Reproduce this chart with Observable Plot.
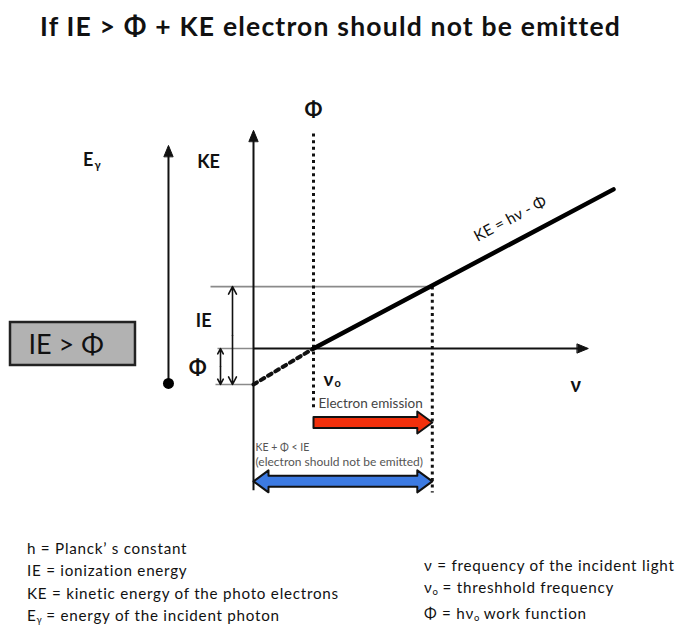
<!DOCTYPE html>
<html><head><meta charset="utf-8">
<script src="https://cdn.jsdelivr.net/npm/d3@7"></script>
<script src="https://cdn.jsdelivr.net/npm/@observablehq/plot@0.6"></script>
<style>
body{margin:0;background:#fff;font-family:Lato,"Open Sans",sans-serif;color:#111}
#wrap{position:relative;width:680px;height:626px;overflow:hidden}
#title{position:absolute;left:40px;top:6px;font-size:26.5px;letter-spacing:1.2px;font-weight:bold;white-space:nowrap;line-height:40px}
#chart{position:absolute;left:0;top:56px}
.leg{position:absolute;font-size:15.2px;letter-spacing:0.75px;line-height:22.3px;white-space:nowrap}
.leg sub{font-size:9.5px;vertical-align:baseline;position:relative;top:2px;letter-spacing:0}
</style></head>
<body><div id="wrap">
<div id="title">If IE &gt; Φ + KE electron should not be emitted</div>
<div id="chart"></div>
<div class="leg" id="legL" style="left:27px;top:537px"></div>
<div class="leg" id="legR" style="left:424px;top:554px"></div>
</div>
<script>
// ---- data (frequency ν in units of ν0, energy in units of Φ) ----
const nu0 = 1;            // threshold frequency
const phi = 1;            // work function
const ieLevel = 1.72;     // ionization energy
const nuIE = 2.98;        // frequency where KE + Φ = IE
const keLineNu = [1, 6];  // KE = hν − Φ (solid part)
const keLineE  = [0, 4.42];
const keExtNu  = [0, 1];  // dotted extension
const keExtE   = [-1, 0];
const nuAxisEnd = 5.58;
const keAxisTop = 6.06, keAxisBottom = -3.94;
const eAxisNu = -1.417, eAxisTop = 5.64, eAxisBottom = -0.97;
const phiLineTop = 5.97, phiLineBottom = -1.72, ieLineBottom = -4.0;
const redArrowE = -2.056, blueArrowE = -3.69;
const legendLeft = [["h = Planck’ s constant"], ["IE = ionization energy"], ["KE = kinetic energy of the photo electrons"], ["E", "γ", " = energy of the incident photon"]];
const legendRight = [["ν = frequency of the incident light"], ["ν", "o", " = threshhold frequency"], ["Φ = hν", "o", " work function"]];

// ---- scales: data units -> pixels ----
const W = 680, H = 480, ox = 253, oy = 292, ux = 60, uy = 36;
const dx = p => p / ux, dy = p => p / uy;

function triUp(tx, ty) { return [{x: tx - dx(4.5), y: ty - dy(11)}, {x: tx, y: ty}, {x: tx + dx(4.5), y: ty - dy(11)}]; }
function triRight(tx, ty) { return [{x: tx - dx(11), y: ty + dy(4.5)}, {x: tx, y: ty}, {x: tx - dx(11), y: ty - dy(4.5)}]; }
function blockArrow(x1, x2, yc, dbl) {
  const s = dy(5.5), h = dy(11), L = dx(15), p = [];
  if (dbl) p.push({x: x1, y: yc}, {x: x1 + L, y: yc + h}, {x: x1 + L, y: yc + s});
  else p.push({x: x1, y: yc + s});
  p.push({x: x2 - L, y: yc + s}, {x: x2 - L, y: yc + h}, {x: x2, y: yc}, {x: x2 - L, y: yc - h}, {x: x2 - L, y: yc - s});
  if (dbl) p.push({x: x1 + L, y: yc - s}, {x: x1 + L, y: yc - h});
  else p.push({x: x1, y: yc - s});
  return p;
}

const axes = [
  {x1: 0, y1: keAxisBottom, x2: 0, y2: keAxisTop - dy(9)},
  {x1: 0, y1: 0, x2: nuAxisEnd - dx(9), y2: 0},
  {x1: eAxisNu, y1: eAxisBottom, x2: eAxisNu, y2: eAxisTop - dy(9)}
];
const levels = [
  {x1: dx(-43), y1: ieLevel, x2: nuIE, y2: ieLevel},
  {x1: dx(-36), y1: 0, x2: 0, y2: 0},
  {x1: dx(-38), y1: -phi, x2: 0, y2: -phi}
];
const dotted = [
  {x1: nu0, y1: phiLineTop, x2: nu0, y2: phiLineBottom},
  {x1: nuIE, y1: ieLevel, x2: nuIE, y2: ieLineBottom}
];
const ieX = dx(-21), phiX = dx(-33);
const smallArrows = [
  {x1: ieX, y1: (ieLevel - phi) / 2, x2: ieX, y2: ieLevel},
  {x1: ieX, y1: (ieLevel - phi) / 2, x2: ieX, y2: -phi},
  {x1: phiX, y1: -phi / 2, x2: phiX, y2: 0},
  {x1: phiX, y1: -phi / 2, x2: phiX, y2: -phi}
];
const heads = [...triUp(0, keAxisTop).map(d => ({...d, k: "a"})), ...triUp(eAxisNu, eAxisTop).map(d => ({...d, k: "b"})), ...triRight(nuAxisEnd, 0).map(d => ({...d, k: "c"}))];

const boldLabels = [
  {t: "KE", x: -0.75, y: 5.17, s: 18},
  {t: "Φ", x: nu0, y: 6.61, s: 21},
  {t: "IE", x: -0.83, y: 0.75, s: 18},
  {t: "Φ", x: -0.93, y: -0.556, s: 21},
  {t: "ν", x: 5.37, y: -1.03, s: 20}
];
const mainSubLabels = [
  {t: "E", x: -2.667, y: 5.22, s: 18},
  {t: "ν", x: 1.333, y: -0.86, s: 19}
];
const subLabels = [
  {t: "γ", x: -2.65, y: 5.08, s: 11},
  {t: "o", x: 1.35, y: -0.96, s: 11}
];

const chart = Plot.plot({
  width: W, height: H, margin: 0,
  x: {domain: [-ox / ux, (W - ox) / ux], range: [0, W], axis: null},
  y: {domain: [-(H - oy) / uy, oy / uy], range: [H, 0], axis: null},
  style: {fontFamily: "Lato, 'Open Sans', sans-serif", background: "white", color: "#111"},
  marks: [
    Plot.rect([{x1: -4.05, x2: -1.967, y1: 0.722, y2: -0.472}], {x1: "x1", x2: "x2", y1: "y1", y2: "y2", fill: "#b2b2b2", stroke: "#222", strokeWidth: 2.5}),
    Plot.text(["IE > Φ"], {x: -3.75, y: 0.1, text: d => d, textAnchor: "start", fontSize: 27, fill: "#111"}),
    Plot.link(levels, {x1: "x1", y1: "y1", x2: "x2", y2: "y2", stroke: "#8a8a8a", strokeWidth: 1.6}),
    Plot.link(dotted, {x1: "x1", y1: "y1", x2: "x2", y2: "y2", stroke: "#111", strokeWidth: 3, strokeDasharray: "3,3.6"}),
    Plot.link(axes, {x1: "x1", y1: "y1", x2: "x2", y2: "y2", stroke: "#111", strokeWidth: 2}),
    Plot.line(heads, {x: "x", y: "y", z: "k", fill: "#111", stroke: "#111", strokeWidth: 1, curve: "linear-closed"}),
    Plot.dot([{x: eAxisNu, y: eAxisBottom}], {x: "x", y: "y", r: 5.5, fill: "#000"}),
    Plot.arrow(smallArrows, {x1: "x1", y1: "y1", x2: "x2", y2: "y2", stroke: "#111", strokeWidth: 1.6, headLength: 8, headAngle: 55}),
    Plot.line(keExtNu.map((v, i) => ({x: v, y: keExtE[i]})), {x: "x", y: "y", stroke: "#111", strokeWidth: 4, strokeDasharray: "4,4.5"}),
    Plot.line(keLineNu.map((v, i) => ({x: v, y: keLineE[i]})), {x: "x", y: "y", stroke: "#000", strokeWidth: 4.5}),
    Plot.text(["KE = hν - Φ"], {x: 4.28, y: 3.6, text: d => d, rotate: -28, fontSize: 15.5, fill: "#111"}),
    Plot.text(boldLabels, {x: "x", y: "y", text: "t", fontSize: "s", fontWeight: "bold", fill: "#111"}),
    Plot.text(mainSubLabels, {x: "x", y: "y", text: "t", fontSize: "s", fontWeight: "bold", textAnchor: "end", fill: "#111"}),
    Plot.text(subLabels, {x: "x", y: "y", text: "t", fontSize: "s", fontWeight: "bold", textAnchor: "start", fill: "#111"}),
    Plot.text(["Electron emission"], {x: nu0 + dx(5), y: -1.53, text: d => d, textAnchor: "start", fontSize: 13.5, fill: "#444"}),
    Plot.line(blockArrow(nu0, nuIE, redArrowE, false), {x: "x", y: "y", fill: "#f2300c", stroke: "#111", strokeWidth: 2, curve: "linear-closed"}),
    Plot.text(["KE + Φ < IE"], {x: dx(2), y: -2.75, text: d => d, textAnchor: "start", fontSize: 10.5, fill: "#555"}),
    Plot.text(["(electron should not be emitted)"], {x: dx(2), y: -3.17, text: d => d, textAnchor: "start", fontSize: 12, fill: "#555"}),
    Plot.line(blockArrow(0, nuIE, blueArrowE, true), {x: "x", y: "y", fill: "#3c7ae2", stroke: "#111", strokeWidth: 2, curve: "linear-closed"})
  ]
});
document.getElementById("chart").append(chart);

function fill(id, rows) {
  const el = document.getElementById(id);
  rows.forEach(r => {
    const div = document.createElement("div");
    div.append(r[0]);
    if (r.length > 1) { const s = document.createElement("sub"); s.textContent = r[1]; div.append(s, r[2]); }
    el.append(div);
  });
}
fill("legL", legendLeft);
fill("legR", legendRight);
</script>
</body></html>
